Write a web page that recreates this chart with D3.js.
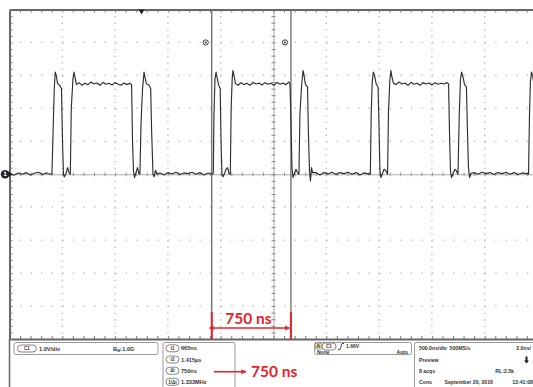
<!DOCTYPE html>
<html>
<head>
<meta charset="utf-8">
<script src="https://cdn.jsdelivr.net/npm/d3@7/dist/d3.min.js"></script>
<style>
  html, body { margin: 0; padding: 0; background: #fff; }
  svg { display: block; }
  .ro { font-family: "Liberation Sans", "DejaVu Sans", sans-serif; font-weight: bold; fill: #333; }
</style>
</head>
<body>
<svg id="scope" width="533" height="387"></svg>
<script>
// ---- Acquisition settings ----
const timeWindowNs = [-1250, 3750];      // 10 divisions at 500 ns/div, trigger at 0
const voltWindow = [-5, 5];              // 10 divisions at 1 V/div
const nsPerDiv = 500;
const voltsPerDiv = 1;

// ---- Channel 1 trace: sample times (ns) and voltages (V) ----
const traceTimeNs = [
  -1245, -1210, -1169, -1129, -1093, -1053, -1018, -977, -937, -901, -866, -848,
  -838, -826, -817, -807, -795, -776, -758, -748, -739, -731, -715, -700, -686, -674, -665, -649, -639, -630, -616,
  -592, -563, -535, -507, -478, -450, -422, -393, -365, -337, -309, -280, -252, -224, -195, -167, -139, -111, -94,
  -85, -76, -66, -52, -38, -24, -15, -5, 10, 24, 33, 46, 71, 87, 96, 109, 119, 133, 147,
  175, 213, 251, 288, 327, 364, 403, 440, 478, 516, 554, 591, 630, 667, 680,
  686, 696, 706, 715, 729, 745, 753, 762, 772, 786, 800, 815, 829, 841, 849, 859, 866, 876, 890,
  914, 942, 970, 998, 1027, 1056, 1084, 1113, 1141, 1169, 1197, 1226, 1254, 1282, 1312, 1340, 1368, 1396, 1406,
  1416, 1425, 1435, 1449, 1463, 1477, 1491, 1500, 1516, 1530, 1539, 1553, 1572, 1581, 1591, 1600, 1610, 1620,
  1652, 1690, 1728, 1766, 1803, 1842, 1879, 1918, 1955, 1993, 2031, 2069, 2107, 2145, 2159,
  2167, 2175, 2185, 2195, 2207, 2221, 2240, 2249, 2258, 2268, 2282, 2296, 2311, 2330, 2339, 2351, 2361, 2372, 2386,
  2410, 2438, 2466, 2494, 2524, 2552, 2580, 2609, 2637, 2665, 2693, 2722, 2750, 2779, 2808, 2836, 2864, 2892, 2908,
  2917, 2926, 2936, 2950, 2969, 2983, 2997, 3009, 3021, 3032, 3045, 3059, 3077, 3087, 3096, 3107, 3121,
  3149, 3186, 3225, 3262, 3301, 3338, 3376, 3414, 3452, 3489, 3528, 3565, 3604, 3641, 3655,
  3665, 3674, 3683, 3693, 3703, 3717, 3745
];
const traceVolts = [
  0.02, -0.03, 0.04, 0, 0.05, -0.02, 0.03, 0.06, -0.01, 0.04, 0, 0.02,
  1.2, 2.6, 3.1, 3.0, 2.75, 2.7, 2.6, 1.0, 0, -0.08, 0.02, 0.2, 0.05, 0, 2.0, 2.9, 3.1, 2.95, 2.72,
  2.78, 2.7, 2.76, 2.72, 2.8, 2.74, 2.77, 2.7, 2.79, 2.73, 2.76, 2.71, 2.78, 2.74, 2.7, 2.77, 2.72, 2.76, 2.72,
  1.0, 0.1, -0.1, 0.05, 0.2, 0.02, 0, 1.5, 2.6, 3.1, 2.95, 2.75, 2.7, 2.6, 1.3, 0, -0.08, 0.12, 0,
  0.04, -0.02, 0.05, 0.01, 0.06, -0.01, 0.04, 0.02, 0.06, 0, 0.05, -0.02, 0.04, 0, 0.02,
  1.8, 2.9, 3.1, 2.95, 2.72, 2.6, 1.0, 0, -0.08, 0.02, 0.15, 0.2, 0.02, 0, 2.0, 2.9, 3.15, 3.0, 2.75,
  2.7, 2.78, 2.72, 2.76, 2.7, 2.79, 2.74, 2.77, 2.71, 2.78, 2.73, 2.76, 2.7, 2.79, 2.73, 2.77, 2.72, 2.8, 2.74,
  1.5, 0.2, -0.1, 0.03, 0.15, 0.05, 0, 1.8, 2.7, 3.15, 3.0, 2.72, 2.65, 1.2, 0.1, -0.2, 0.2, 0.05,
  0.05, -0.02, 0.05, 0.01, 0.06, -0.01, 0.05, 0.02, 0.06, 0, 0.05, -0.02, 0.04, 0.01, 0.02,
  0, 1.8, 2.8, 3.1, 3.0, 2.76, 2.65, 1.5, 0.1, -0.1, 0.02, 0.15, 0.12, 0, 1.9, 2.8, 3.15, 2.95, 2.76,
  2.72, 2.8, 2.74, 2.77, 2.7, 2.79, 2.73, 2.76, 2.7, 2.78, 2.74, 2.77, 2.71, 2.78, 2.73, 2.76, 2.74, 2.78, 2.74,
  1.2, 0.1, -0.1, 0.02, 0.15, 0.1, 0, 1.8, 2.9, 3.1, 2.95, 2.72, 2.65, 1.3, 0.2, -0.1, 0.03,
  0.05, 0, 0.06, 0.02, 0.05, -0.01, 0.05, 0.02, 0.06, 0, 0.05, -0.01, 0.04, 0.02, 0.02,
  0, 1.8, 2.8, 3.1, 3.0, 2.75, 2.7
];

// ---- Cursors and readouts ----
const cursorTimesNs = [665, 1415];
const cursorNames = ["t1", "t2", "\u0394t", "1/\u0394t"];
const cursorReadouts = ["665ns", "1.415\u00b5s", "750ns", "1.333MHz"];
const deltaLabel = "750 ns";
const triggerTimeNs = 0;

// ---- Status panels ----
const channelScale = "1.0V/div";
const channelBw = "1.0G";
const triggerSource = "C1";
const triggerLevel = "1.66V";
const triggerRow2 = ["None", "Auto"];
const timebaseRows = [
  ["500.0ns/div", "500MS/s", "2.0ns/"],
  ["Preview", "", ""],
  ["8 acqs", "", "RL:2.5k"],
  ["Cons", "September 20, 2016", "13:41:08"]
];

const svg = d3.select("#scope");
const scrL = 9.5, scrR = 537.5, scrT = 9.5, scrB = 339;
const x = d3.scaleLinear().domain(timeWindowNs).range([scrL, scrR]);
const y = d3.scaleLinear().domain(voltWindow).range([scrB, scrT]);

const plot = svg.append("g");
plot.append("defs").append("clipPath").attr("id", "screen")
  .append("rect").attr("x", scrL).attr("y", scrT).attr("width", 533 - scrL).attr("height", scrB - scrT);

// Division grid (dotted at minor-division spacing)
const divTimes = d3.range(timeWindowNs[0] + nsPerDiv, timeWindowNs[1], nsPerDiv);
const divVolts = d3.range(voltWindow[0] + voltsPerDiv, voltWindow[1], voltsPerDiv);
const centreT = (timeWindowNs[0] + timeWindowNs[1]) / 2;
const centreV = 0;
const minorX = (x(nsPerDiv) - x(0)) / 5;
const minorY = (y(0) - y(voltsPerDiv)) / 5;

plot.append("g").selectAll("line").data(divTimes.filter(t => t !== centreT)).join("line")
  .attr("x1", d => x(d)).attr("x2", d => x(d)).attr("y1", scrT).attr("y2", scrB)
  .attr("stroke", "#b4b4b4").attr("stroke-width", 1.3)
  .attr("stroke-dasharray", `1.3,${(minorY - 1.3).toFixed(2)}`);
plot.append("g").selectAll("line").data(divVolts.filter(v => v !== centreV)).join("line")
  .attr("y1", d => y(d)).attr("y2", d => y(d)).attr("x1", scrL).attr("x2", 533)
  .attr("stroke", "#b4b4b4").attr("stroke-width", 1.3)
  .attr("stroke-dasharray", `1.3,${(minorX - 1.3).toFixed(2)}`);

// Centre axes with minor ticks on both sides
const minorT = d3.range(timeWindowNs[0], timeWindowNs[1] + 1, nsPerDiv / 5);
const minorV = d3.range(voltWindow[0], voltWindow[1] + 0.001, voltsPerDiv / 5);
const hAxis = plot.append("g").attr("transform", `translate(0,${y(centreV)})`)
  .call(d3.axisBottom(x).tickValues(minorT).tickSize(4).tickSizeOuter(0).tickFormat(""));
hAxis.selectAll(".tick line").attr("y1", -2).attr("y2", 2).attr("stroke", "#999");
hAxis.select(".domain").attr("stroke", "#aaa");
const vAxis = plot.append("g").attr("transform", `translate(${x(centreT)},0)`)
  .call(d3.axisRight(y).tickValues(minorV).tickSize(4).tickSizeOuter(0).tickFormat(""));
vAxis.selectAll(".tick line").attr("x1", -2).attr("x2", 2).attr("stroke", "#888");
vAxis.select(".domain").attr("stroke", "#aaa");

// Screen frame rulers
const topAxis = plot.append("g").attr("transform", `translate(0,${scrT})`)
  .call(d3.axisBottom(x).tickValues(minorT).tickSize(3).tickSizeOuter(0).tickFormat(""));
const botAxis = plot.append("g").attr("transform", `translate(0,${scrB})`)
  .call(d3.axisTop(x).tickValues(minorT).tickSize(3).tickSizeOuter(0).tickFormat(""));
const leftAxis = plot.append("g").attr("transform", `translate(${scrL},0)`)
  .call(d3.axisRight(y).tickValues(minorV).tickSize(3).tickSizeOuter(0).tickFormat(""));
[topAxis, botAxis, leftAxis].forEach(a => {
  a.selectAll(".tick line").attr("stroke", "#777");
  a.select(".domain").attr("stroke", "#666").attr("stroke-width", 2);
});
// frame edge continues down past the status panels
plot.append("line").attr("x1", scrL).attr("x2", scrL).attr("y1", scrB).attr("y2", 387)
  .attr("stroke", "#666").attr("stroke-width", 1.5);

// Cursors
plot.append("g").selectAll("line").data(cursorTimesNs).join("line")
  .attr("x1", d => x(d)).attr("x2", d => x(d)).attr("y1", scrT).attr("y2", scrB)
  .attr("stroke", "#6a6a6a").attr("stroke-width", 1.3);
const cm = plot.append("g").selectAll("g").data(cursorTimesNs).join("g")
  .attr("transform", d => `translate(${x(d) - 6},${y(4)})`);
cm.append("circle").attr("r", 2.6).attr("fill", "#fff").attr("stroke", "#333").attr("stroke-width", 1);
cm.append("circle").attr("r", 1).attr("fill", "#333");

// Trace
const trace = traceTimeNs.map((t, i) => [t, traceVolts[i]]);
plot.append("path").datum(trace)
  .attr("clip-path", "url(#screen)")
  .attr("fill", "none").attr("stroke", "#2e2e2e").attr("stroke-width", 1.15)
  .attr("stroke-linejoin", "round")
  .attr("d", d3.line().x(d => x(d[0])).y(d => y(d[1])));

// Trigger position marker and channel ground marker
plot.append("path")
  .attr("d", `M${x(triggerTimeNs) - 3},${scrT}L${x(triggerTimeNs) + 3},${scrT}L${x(triggerTimeNs)},${scrT + 5}Z`)
  .attr("fill", "#222");
const gm = plot.append("g").attr("transform", `translate(5,${y(0)})`);
gm.append("path").attr("d", "M2,-3.5L8,0L2,3.5Z").attr("fill", "#222");
gm.append("circle").attr("r", 4.2).attr("fill", "#222");
gm.append("text").attr("y", 2).attr("text-anchor", "middle").attr("font-size", 6)
  .attr("font-family", "DejaVu Sans").attr("font-weight", "bold").attr("fill", "#fff").text("1");

// Red Δt dimension
const red = "#e3242b";
const ann = svg.append("g");
const defs = svg.append("defs");
["s", "e"].forEach(k => {
  defs.append("marker").attr("id", "ah" + k).attr("viewBox", "0 0 10 10")
    .attr("refX", k === "e" ? 9 : 1).attr("refY", 5).attr("markerWidth", 3.2).attr("markerHeight", 3.2)
    .attr("orient", "auto-start-reverse")
    .append("path").attr("d", "M0,0L10,5L0,10Z").attr("fill", red);
});
ann.selectAll("line.ext").data(cursorTimesNs).join("line").attr("class", "ext")
  .attr("x1", d => x(d)).attr("x2", d => x(d)).attr("y1", 312).attr("y2", 340)
  .attr("stroke", red).attr("stroke-width", 2);
ann.append("line")
  .attr("x1", x(cursorTimesNs[0]) + 1.5).attr("x2", x(cursorTimesNs[1]) - 1.5)
  .attr("y1", 328).attr("y2", 328).attr("stroke", red).attr("stroke-width", 1.6)
  .attr("marker-start", "url(#ahs)").attr("marker-end", "url(#ahe)");
ann.append("text").attr("x", (x(cursorTimesNs[0]) + x(cursorTimesNs[1])) / 2 - 3).attr("y", 323.5)
  .attr("text-anchor", "middle").attr("font-family", "Lato, 'Open Sans', sans-serif")
  .attr("font-weight", "bold").attr("font-size", 15.5).attr("fill", red).text(deltaLabel);

// ---- Status panels ----
const panels = svg.append("g");
function box(px, py, w, h) {
  panels.append("rect").attr("x", px).attr("y", py).attr("width", w).attr("height", h)
    .attr("rx", 2).attr("fill", "#fff").attr("stroke", "#9a9a9a").attr("stroke-width", 1);
}
function pill(cx, cy, w, label) {
  panels.append("rect").attr("x", cx - w / 2).attr("y", cy - 3.5).attr("width", w).attr("height", 7)
    .attr("rx", 3.5).attr("fill", "#fff").attr("stroke", "#666").attr("stroke-width", 0.8);
  panels.append("text").attr("class", "ro").attr("x", cx).attr("y", cy + 1.7)
    .attr("text-anchor", "middle").attr("font-size", 4.5).text(label);
}
function txt(px, py, s, size, anchor) {
  panels.append("text").attr("class", "ro").attr("x", px).attr("y", py)
    .attr("font-size", size || 5.6).attr("text-anchor", anchor || "start").text(s);
}

// channel
box(14, 342.5, 144, 12);
pill(27, 348.5, 19, "C1");
txt(39, 350.5, channelScale);
panels.append("text").attr("class", "ro").attr("x", 113).attr("y", 350.5).attr("font-size", 5.6)
  .text("B").append("tspan").attr("font-size", 3.6).attr("dy", 1.2).text("W")
  .append("tspan").attr("font-size", 5.6).attr("dy", -1.2).text(":" + channelBw);

// cursor readouts
box(163, 342.5, 72, 50);
const rowY = [348.3, 359.5, 370.7, 381.8];
cursorNames.forEach((n, i) => {
  pill(172.5, rowY[i], 13, n);
  txt(181, rowY[i] + 2, cursorReadouts[i]);
});

// arrow from Δt readout to the big label
panels.append("line").attr("x1", 214).attr("x2", 246).attr("y1", rowY[2] + 1).attr("y2", rowY[2] + 1)
  .attr("stroke", red).attr("stroke-width", 1.6).attr("marker-end", "url(#ahe)");
panels.append("text").attr("x", 251).attr("y", rowY[2] + 6.5)
  .attr("font-family", "Lato, 'Open Sans', sans-serif").attr("font-weight", "bold")
  .attr("font-size", 15.5).attr("fill", red).text(deltaLabel);

// trigger
box(314.5, 342.5, 97, 12);
panels.append("rect").attr("x", 315.5).attr("y", 343.5).attr("width", 6).attr("height", 5.5)
  .attr("fill", "#e8dca0").attr("stroke", "#777").attr("stroke-width", 0.5);
txt(316.5, 348.3, "A", 5);
pill(329, 346.5, 14, triggerSource);
panels.append("path").attr("d", "M338,349.5L340,349.5L342,343.5L344,343.5")
  .attr("fill", "none").attr("stroke", "#333").attr("stroke-width", 0.9);
txt(346, 348.3, triggerLevel, 5);
txt(317, 353.6, triggerRow2[0], 5);
txt(408, 353.6, triggerRow2[1], 5, "end");

// timebase
box(414.5, 342.5, 125, 50);
const tbY = [350, 361.5, 372.5, 383.5];
timebaseRows.forEach((r, i) => {
  txt(419, tbY[i], r[0], 5.2);
  if (r[1]) txt(i === 3 ? 444.5 : 449.5, tbY[i], r[1], 5.2);
  if (r[2]) txt(i === 0 ? 531 : (i === 3 ? 533 : 514), tbY[i], r[2], 5.2, "end");
});
// preview-mode arrow icon
panels.append("path").attr("d", "M525.5,356.5L527.5,356.5L527.5,360.5L529,360.5L526.5,363.5L524,360.5L525.5,360.5Z")
  .attr("fill", "#222");
</script>
</body>
</html>
